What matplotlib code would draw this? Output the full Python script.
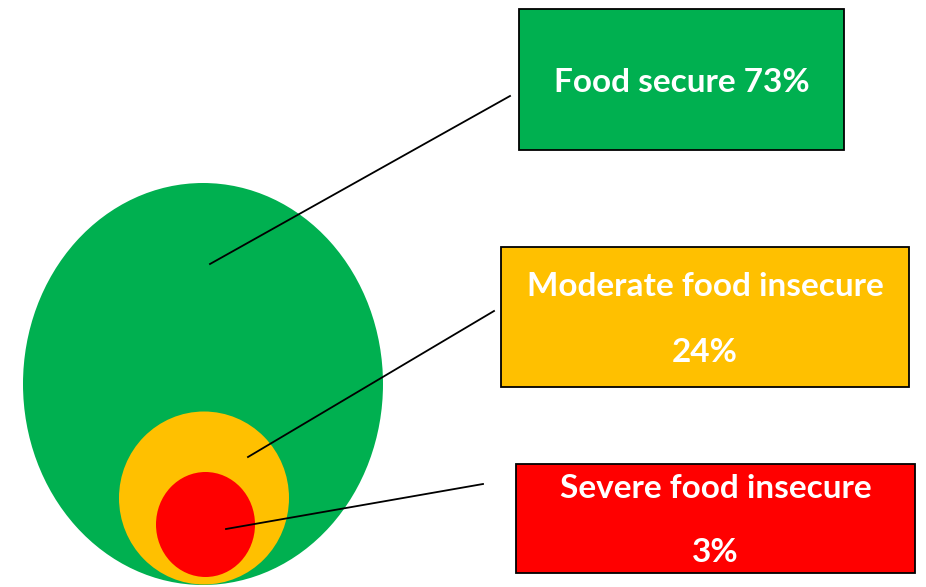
import matplotlib.pyplot as plt
from matplotlib.patches import Ellipse, Rectangle

# categories and shares
labels = ["Food secure 73%", "Moderate food insecure\n\n24%", "Severe food insecure\n\n3%"]
colors = ["#00B050", "#FFC000", "#FF0000"]

# nested ellipses: (cx, cy, width, height) in pixel coords
ellipses = [(203, 384, 360, 402), (204, 498, 170, 173), (205.5, 524.5, 99, 105)]
# label boxes: (x0, y0, x1, y1)
boxes = [(519, 9, 844, 150), (501, 247, 909, 387), (516, 464, 915, 573)]
# leader lines: (start inside ellipse, end near box)
leaders = [((210, 264), (510, 96)), ((248, 457), (494, 311)), ((226, 529), (483, 484))]
text_y = [(82,), (286, 352), (488, 553)]

fig = plt.figure(figsize=(9.26, 5.87), dpi=100)
ax = fig.add_axes([0, 0, 1, 1])
ax.set_xlim(0, 926)
ax.set_ylim(587, 0)
ax.axis("off")

for (cx, cy, w, h), c in zip(ellipses, colors):
    ax.add_patch(Ellipse((cx, cy), w, h, facecolor=c, edgecolor="none"))

for (p0, p1) in leaders:
    ax.plot([p0[0], p1[0]], [p0[1], p1[1]], color="black", lw=1.3)

for (x0, y0, x1, y1), c, lab, ys in zip(boxes, colors, labels, text_y):
    ax.add_patch(Rectangle((x0, y0), x1 - x0, y1 - y0, facecolor=c,
                           edgecolor="black", lw=1.3))
    cx = (x0 + x1) / 2
    for line, y in zip([s for s in lab.split("\n") if s], ys):
        ax.text(cx, y, line, ha="center", va="center", color="white",
                fontsize=24, fontweight="bold", family="Lato")

fig.savefig("out.png", dpi=100)
